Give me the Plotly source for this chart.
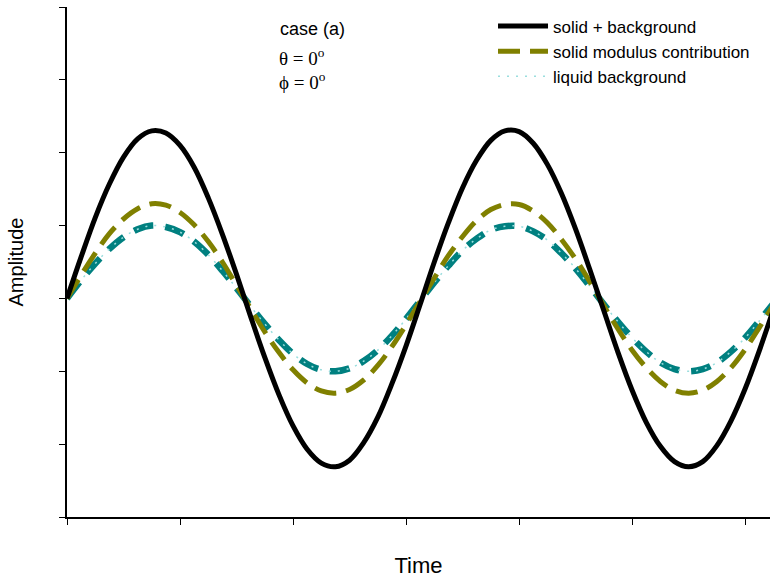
import plotly.graph_objects as go

# Time samples (tick units) and amplitudes
time = [0.000, 0.125, 0.250, 0.375, 0.500, 0.625, 0.750, 0.875, 1.000, 1.125, 1.250, 1.375, 1.500,
        1.625, 1.750, 1.875, 2.000, 2.125, 2.250, 2.375, 2.500, 2.625, 2.750, 2.875, 3.000, 3.125,
        3.250, 3.375, 3.500, 3.625, 3.750, 3.875, 4.000, 4.125, 4.250, 4.375, 4.500, 4.625, 4.750,
        4.875, 5.000, 5.125, 5.250, 5.375, 5.500, 5.625, 5.750, 5.875, 6.000, 6.125, 6.250]
solid_plus_background = [3.00, 3.57, 4.11, 4.57, 4.94, 5.19, 5.30, 5.27, 5.10, 4.80, 4.38, 3.88, 3.33,
                         2.75, 2.19, 1.68, 1.25, 0.93, 0.74, 0.69, 0.78, 1.02, 1.37, 1.83, 2.35, 2.92,
                         3.50, 4.04, 4.52, 4.90, 5.17, 5.30, 5.29, 5.13, 4.84, 4.44, 3.95, 3.40, 2.83,
                         2.26, 1.74, 1.30, 0.97, 0.76, 0.69, 0.76, 0.98, 1.32, 1.76, 2.28, 2.85]
solid_modulus = [3.00, 3.32, 3.62, 3.89, 4.09, 4.23, 4.30, 4.28, 4.18, 4.01, 3.78, 3.50, 3.18,
                 2.86, 2.54, 2.26, 2.02, 1.84, 1.73, 1.70, 1.75, 1.88, 2.08, 2.34, 2.64, 2.96,
                 3.28, 3.59, 3.85, 4.07, 4.22, 4.29, 4.29, 4.20, 4.04, 3.81, 3.54, 3.23, 2.90,
                 2.58, 2.29, 2.05, 1.86, 1.74, 1.70, 1.74, 1.86, 2.05, 2.30, 2.60, 2.91]
liquid_background = [3.00, 3.25, 3.48, 3.68, 3.84, 3.95, 4.00, 3.98, 3.91, 3.78, 3.60, 3.38, 3.14,
                     2.89, 2.65, 2.43, 2.24, 2.10, 2.02, 2.00, 2.04, 2.14, 2.29, 2.49, 2.72, 2.97,
                     3.22, 3.45, 3.66, 3.82, 3.94, 3.99, 3.99, 3.92, 3.80, 3.62, 3.41, 3.17, 2.92,
                     2.68, 2.46, 2.27, 2.12, 2.03, 2.00, 2.03, 2.12, 2.27, 2.46, 2.69, 2.93]

x_ticks = [0, 1, 2, 3, 4, 5, 6]
y_ticks = [0, 1, 2, 3, 4, 5, 6, 7]

fig = go.Figure()
fig.add_trace(go.Scatter(x=time, y=liquid_background, mode="lines", showlegend=False,
                         line=dict(color="#008080", width=6.5, dash="20px,12px", shape="spline"),
                         hoverinfo="skip"))
fig.add_trace(go.Scatter(x=time, y=liquid_background, mode="lines", name="liquid background",
                         legendrank=3,
                         line=dict(color="#9adede", width=1.5, dash="2px,7px", shape="spline")))
fig.add_trace(go.Scatter(x=time, y=solid_modulus, mode="lines", name="solid modulus contribution",
                         legendrank=2,
                         line=dict(color="#808000", width=5, dash="22px,10px", shape="spline")))
fig.add_trace(go.Scatter(x=time, y=solid_plus_background, mode="lines", name="solid + background",
                         legendrank=1,
                         line=dict(color="black", width=5, shape="spline")))

axis_common = dict(showgrid=False, zeroline=False, showline=True, linecolor="black", linewidth=1.5,
                   ticks="outside", ticklen=6, tickwidth=1.2, tickcolor="black", showticklabels=False)

fig.update_layout(
    width=770, height=580,
    margin=dict(l=67, r=0, t=7, b=63),
    paper_bgcolor="white", plot_bgcolor="white",
    font=dict(family="Liberation Sans, Arial, sans-serif", color="black"),
    xaxis=dict(range=[0, 6.22], tickvals=x_ticks, **axis_common,
               title=dict(text="Time", font=dict(size=22), standoff=34)),
    yaxis=dict(range=[0, 7], tickvals=y_ticks, **axis_common,
               title=dict(text="Amplitude", font=dict(size=20), standoff=30)),
    legend=dict(x=0.606, y=0.997, xanchor="left", yanchor="top", bgcolor="rgba(0,0,0,0)",
                font=dict(size=17), itemwidth=50, tracegroupgap=0),
    showlegend=True,
)

fig.add_annotation(xref="paper", yref="paper", x=(278 - 67) / 703, y=(517 - 29) / 510,
                   xanchor="left", yanchor="middle", showarrow=False,
                   text="case (a)", font=dict(size=18, family="Liberation Sans, Arial"))
fig.add_annotation(xref="paper", yref="paper", x=(277 - 67) / 703, y=(517 - 57) / 510,
                   xanchor="left", yanchor="middle", showarrow=False,
                   text="θ = 0<sup>o</sup>", font=dict(size=19, family="Liberation Serif, Times New Roman, serif"))
fig.add_annotation(xref="paper", yref="paper", x=(277 - 67) / 703, y=(517 - 81) / 510,
                   xanchor="left", yanchor="middle", showarrow=False,
                   text="ϕ = 0<sup>o</sup>", font=dict(size=19, family="Liberation Serif, Times New Roman, serif"))

fig.write_html("out.html")
